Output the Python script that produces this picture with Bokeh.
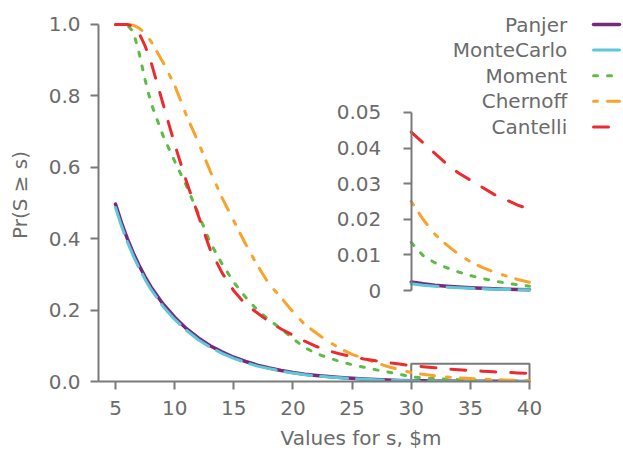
from bokeh.plotting import figure
from bokeh.models import Range1d, LinearAxis, FixedTicker, CustomJSTickFormatter
from bokeh.core.properties import value
from bokeh.embed import file_html
from bokeh.resources import INLINE

# ---------------- data ----------------
s_values = [5, 5.5, 6, 6.5, 7, 7.5, 8, 9, 10, 11, 12, 13, 14, 15, 16, 17, 18, 19, 20,
            21, 22, 23, 24, 25, 26, 27, 28, 29, 30, 31, 32, 33, 34, 35, 36, 37, 38, 39, 40]

panjer = [0.497, 0.445, 0.400, 0.360, 0.325, 0.293, 0.265, 0.218, 0.180, 0.148, 0.122,
          0.100, 0.083, 0.068, 0.056, 0.046, 0.038, 0.031, 0.025, 0.0205, 0.0168, 0.0138,
          0.0113, 0.0090, 0.0069, 0.0053, 0.0041, 0.0031, 0.0024, 0.0019, 0.0015, 0.0012,
          0.00095, 0.00075, 0.0006, 0.00047, 0.00037, 0.0003, 0.00024]

montecarlo = [0.487, 0.436, 0.391, 0.352, 0.317, 0.286, 0.258, 0.211, 0.174, 0.143, 0.117,
              0.096, 0.079, 0.065, 0.053, 0.043, 0.036, 0.029, 0.0235, 0.019, 0.0155, 0.0127,
              0.0103, 0.0082, 0.0063, 0.0048, 0.0037, 0.0028, 0.0019, 0.0015, 0.0012, 0.00095,
              0.00075, 0.0006, 0.00047, 0.00037, 0.00029, 0.00023, 0.00018]

moment = [1.0, 1.0, 0.998, 0.98, 0.92, 0.845, 0.78, 0.69, 0.617, 0.548, 0.47, 0.39, 0.33,
          0.278, 0.236, 0.20, 0.172, 0.148, 0.12, 0.095, 0.078, 0.066, 0.056, 0.047, 0.040,
          0.033, 0.027, 0.020, 0.0135, 0.0098, 0.0078, 0.0064, 0.0052, 0.0042, 0.0034,
          0.0027, 0.0021, 0.0016, 0.0012]

chernoff = [1.0, 1.0, 1.0, 0.998, 0.99, 0.975, 0.953, 0.895, 0.83, 0.745, 0.67, 0.59, 0.515,
            0.45, 0.385, 0.325, 0.272, 0.235, 0.195, 0.16, 0.135, 0.112, 0.092, 0.076, 0.065,
            0.053, 0.042, 0.033, 0.025, 0.020, 0.0158, 0.0128, 0.0102, 0.0081, 0.0065, 0.0052,
            0.0041, 0.0031, 0.0023]

cantelli = [1.0, 1.0, 1.0, 0.995, 0.975, 0.94, 0.895, 0.78, 0.665, 0.56, 0.465, 0.37, 0.305,
            0.254, 0.216, 0.192, 0.167, 0.147, 0.13, 0.113, 0.098, 0.086, 0.077, 0.070, 0.063,
            0.058, 0.053, 0.049, 0.0445, 0.0415, 0.0385, 0.0355, 0.033, 0.031, 0.029, 0.027,
            0.0255, 0.024, 0.0228]

series_names = ["Panjer", "MonteCarlo", "Moment", "Chernoff", "Cantelli"]
series_values = [panjer, montecarlo, moment, chernoff, cantelli]

x_ticks = [5, 10, 15, 20, 25, 30, 35, 40]
y_ticks = [0.0, 0.2, 0.4, 0.6, 0.8, 1.0]
y_tick_labels = ["0.0", "0.2", "0.4", "0.6", "0.8", "1.0"]

inset_x = [30, 40]
inset_y_ticks = [0.0, 0.01, 0.02, 0.03, 0.04, 0.05]
inset_y_tick_labels = ["0", "0.01", "0.02", "0.03", "0.04", "0.05"]

x_label = "Values for s, $m"
y_label = "Pr(S \u2265 s)"

# ---------------- styles ----------------
FONT = "DejaVu Sans"
TEXT_COLOR = "#6b6b6b"
AXIS_COLOR = "#7a7a7a"

styles = {
    "Panjer":     dict(color="#772a7c", width=3.5, dash="solid"),
    "MonteCarlo": dict(color="#5cc8d8", width=3.0, dash="27 9"),
    "Moment":     dict(color="#5fbb45", width=3.0, dash="4 10"),
    "Chernoff":   dict(color="#f9a22c", width=3.0, dash="4 10 14 12"),
    "Cantelli":   dict(color="#ec2b2f", width=3.0, dash="15 15"),
}

p = figure(width=623, height=452,
           x_range=Range1d(3.563, 47.947), y_range=Range1d(0, 1.0448),
           output_backend="svg", toolbar_location=None,
           min_border_left=98, min_border_right=0, min_border_top=8, min_border_bottom=71)
p.outline_line_color = None
p.grid.visible = False
p.background_fill_color = "white"
p.border_fill_color = "white"

p.extra_y_ranges = {"inset": Range1d(-0.02556, 0.07921), "ly": Range1d(381, 8)}
p.extra_x_ranges = {"lx": Range1d(98, 623)}


def style_axis(ax):
    ax.axis_line_color = AXIS_COLOR
    ax.axis_line_width = 2
    ax.major_tick_line_color = AXIS_COLOR
    ax.major_tick_line_width = 2
    ax.major_tick_out = 8
    ax.major_tick_in = 0
    ax.minor_tick_line_color = None
    ax.major_label_text_font = FONT
    ax.major_label_text_font_size = "20px"
    ax.major_label_text_color = TEXT_COLOR
    ax.axis_label_text_font = FONT
    ax.axis_label_text_font_size = "20px"
    ax.axis_label_text_color = TEXT_COLOR
    ax.axis_label_text_font_style = "normal"


xaxis = p.xaxis[0]
style_axis(xaxis)
xaxis.ticker = FixedTicker(ticks=x_ticks)
xaxis.bounds = (3.563, x_ticks[-1])
xaxis.axis_label = x_label
xaxis.major_label_standoff = 11
xaxis.axis_label_standoff = 8

yaxis = p.yaxis[0]
style_axis(yaxis)
yaxis.ticker = FixedTicker(ticks=y_ticks)
yaxis.bounds = (y_ticks[0], y_ticks[-1])
yaxis.formatter = CustomJSTickFormatter(args=dict(labels=y_tick_labels), code="return labels[index];")
yaxis.axis_label = y_label
yaxis.major_label_standoff = 10
yaxis.axis_label_standoff = 14

inset_axis = LinearAxis(y_range_name="inset", fixed_location=inset_x[0],
                        bounds=(inset_y_ticks[0], inset_y_ticks[-1]),
                        ticker=FixedTicker(ticks=inset_y_ticks),
                        formatter=CustomJSTickFormatter(args=dict(labels=inset_y_tick_labels),
                                                        code="return labels[index];"))
style_axis(inset_axis)
inset_axis.major_label_standoff = 22
p.add_layout(inset_axis, "left")

# zoom box in the main panel
p.quad(left=[inset_x[0]], right=[inset_x[1]], bottom=[inset_y_ticks[0]], top=[inset_y_ticks[-1]],
       fill_color=None, line_color=AXIS_COLOR, line_width=2)

# main curves
for name, ys in zip(series_names, series_values):
    st = styles[name]
    p.line(s_values, ys, line_color=st["color"], line_width=st["width"],
           line_dash=st["dash"], line_cap="round", line_join="round")

# inset curves
for name, ys in zip(series_names, series_values):
    st = styles[name]
    xs_in = [x for x in s_values if inset_x[0] <= x <= inset_x[1]]
    ys_in = [y for x, y in zip(s_values, ys) if inset_x[0] <= x <= inset_x[1]]
    p.line(xs_in, ys_in, y_range_name="inset", line_color=st["color"], line_width=st["width"],
           line_dash=st["dash"], line_cap="round", line_join="round")

# legend (labels on the left, samples on the right)
legend_y0 = 24
legend_dy = 25.6
for i, name in enumerate(series_names):
    st = styles[name]
    y = legend_y0 + i * legend_dy
    p.text(x=[566.7], y=[y], text=[name], x_range_name="lx", y_range_name="ly",
           text_align="right", text_baseline="middle", text_font=value(FONT),
           text_font_size=value("20px"), text_color=TEXT_COLOR)
    p.line(x=[593, 619], y=[y, y], x_range_name="lx", y_range_name="ly",
           line_color=st["color"], line_width=st["width"], line_dash=st["dash"], line_cap="round")

open("out.html", "w").write(file_html(p, INLINE))
